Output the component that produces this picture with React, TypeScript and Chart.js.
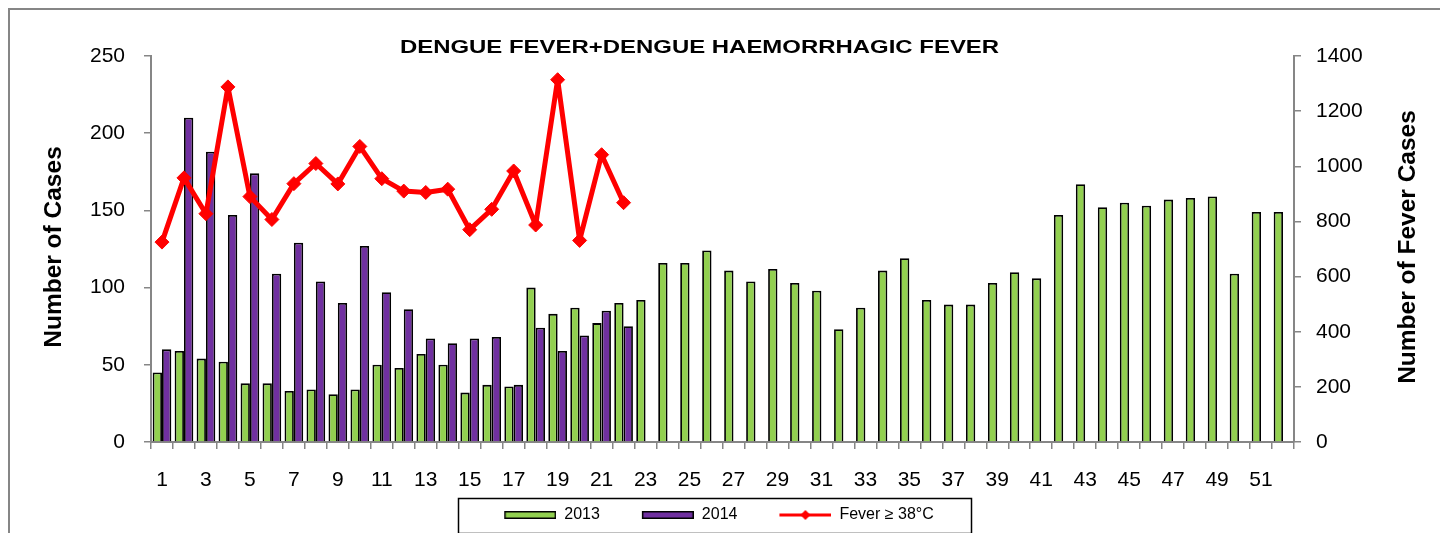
import React, { useEffect, useRef } from 'react';
import { Chart, registerables } from 'chart.js';

Chart.register(...registerables);

const FONT = '"Liberation Sans", Arial, sans-serif';
const CHART_TITLE = 'DENGUE FEVER+DENGUE HAEMORRHAGIC FEVER';
const LEFT_AXIS_TITLE = 'Number of Cases';
const RIGHT_AXIS_TITLE = 'Number of Fever Cases';

const weeks = [
  '1', '2', '3', '4', '5', '6', '7', '8', '9', '10', '11', '12', '13', '14', '15', '16', '17', '18',
  '19', '20', '21', '22', '23', '24', '25', '26', '27', '28', '29', '30', '31', '32', '33', '34', '35',
  '36', '37', '38', '39', '40', '41', '42', '43', '44', '45', '46', '47', '48', '49', '50', '51', '52',
];

const cases2013 = [
  45, 59, 54, 52, 38, 38, 33, 34, 31, 34, 50, 48, 57, 50, 32, 37, 36, 100, 83, 87, 77, 90, 92,
  116, 116, 124, 111, 104, 112, 103, 98, 73, 87, 111, 119, 92, 89, 89, 103, 110, 106, 147, 167,
  152, 155, 153, 157, 158, 159, 109, 149, 149,
];

const cases2014 = [
  60, 210, 188, 147, 174, 109, 129, 104, 90, 127, 97, 86, 67, 64, 67, 68, 37, 74, 59, 69, 85, 75,
];

const feverCases = [
  725, 958, 828, 1288, 890, 807, 937, 1010, 936, 1072, 955, 910, 905, 917, 770, 844, 983, 787,
  1314, 731, 1042, 868,
];

const seriesNames = ['2013', '2014', 'Fever \u2265 38\u00B0C'];
const leftAxisRange = [0, 250, 50];
const rightAxisRange = [0, 1400, 200];

const GREEN = '#92D050';
const PURPLE = '#7030A0';
const RED = '#FF0000';
const AXIS = '#868686';

function makeLegendSymbol(kind: 'bar' | 'line', color: string): HTMLCanvasElement {
  const c = document.createElement('canvas');
  c.width = 84;
  c.height = 14;
  const g = c.getContext('2d')!;
  if (kind === 'bar') {
    g.fillStyle = color;
    g.fillRect(32, 3, 52, 8);
    g.strokeStyle = '#000';
    g.lineWidth = 1.5;
    g.strokeRect(32.75, 3.75, 50.5, 6.5);
  } else {
    g.strokeStyle = color;
    g.lineWidth = 3;
    g.beginPath();
    g.moveTo(32, 7);
    g.lineTo(84, 7);
    g.stroke();
    g.fillStyle = color;
    g.beginPath();
    g.moveTo(58 - 5, 7);
    g.lineTo(58, 2);
    g.lineTo(58 + 5, 7);
    g.lineTo(58, 12);
    g.closePath();
    g.fill();
  }
  return c;
}

const decorations = {
  id: 'decorations',
  afterDraw(chart: any) {
    const { ctx, chartArea } = chart;
    ctx.save();
    ctx.fillStyle = '#000';
    // chart title (stretched horizontally like the original)
    ctx.font = `bold 19px ${FONT}`;
    ctx.textAlign = 'center';
    ctx.textBaseline = 'middle';
    ctx.save();
    ctx.translate((chartArea.left + chartArea.right) / 2 - 23, 48);
    ctx.scale(1.26, 1);
    ctx.fillText(CHART_TITLE, 0, 0);
    ctx.restore();

    // axis titles (both read bottom to top)
    const midY = (chartArea.top + chartArea.bottom) / 2 - 2;
    ctx.font = `bold 24.5px ${FONT}`;
    ctx.save();
    ctx.translate(chartArea.left - 97, midY);
    ctx.rotate(-Math.PI / 2);
    ctx.fillText(LEFT_AXIS_TITLE, 0, 0);
    ctx.restore();
    ctx.save();
    ctx.translate(chartArea.right + 114, midY);
    ctx.rotate(-Math.PI / 2);
    ctx.fillText(RIGHT_AXIS_TITLE, 0, 0);
    ctx.restore();

    // legend frame
    const lg = chart.legend;
    if (lg && lg.legendHitBoxes && lg.legendHitBoxes.length) {
      const hb = lg.legendHitBoxes;
      const first = hb[0];
      const last = hb[hb.length - 1];
      const left = first.left + 32 - 46;
      const right = last.left + last.width + 37;
      const cy = first.top + first.height / 2;
      ctx.strokeStyle = '#000';
      ctx.lineWidth = 1.5;
      ctx.strokeRect(Math.round(left) + 0.5, Math.round(cy - 17.5) + 0.5, Math.round(right - left), 35);
    }
    ctx.restore();
  },
};

export default function App() {
  const canvasRef = useRef<HTMLCanvasElement | null>(null);

  useEffect(() => {
    if (!canvasRef.current) return;
    const symbols = [
      makeLegendSymbol('bar', GREEN),
      makeLegendSymbol('bar', PURPLE),
      makeLegendSymbol('line', RED),
    ];

    const chart = new Chart(canvasRef.current, {
      type: 'bar',
      data: {
        labels: weeks,
        datasets: [
          {
            type: 'bar',
            label: seriesNames[0],
            data: cases2013,
            backgroundColor: GREEN,
            borderColor: '#000',
            borderWidth: 1.8,
            yAxisID: 'y',
            order: 1,
            categoryPercentage: 0.85,
            barPercentage: 1.0,
          },
          {
            type: 'bar',
            label: seriesNames[1],
            data: cases2014,
            backgroundColor: PURPLE,
            borderColor: '#000',
            borderWidth: 1.8,
            yAxisID: 'y',
            order: 1,
            categoryPercentage: 0.85,
            barPercentage: 1.0,
          },
          {
            type: 'line',
            label: seriesNames[2],
            data: feverCases,
            borderColor: RED,
            backgroundColor: RED,
            borderWidth: 5,
            borderJoinStyle: 'round',
            borderCapStyle: 'round',
            pointStyle: 'rectRot',
            pointRadius: 7,
            pointBackgroundColor: RED,
            pointBorderColor: RED,
            pointBorderWidth: 1,
            tension: 0,
            yAxisID: 'y1',
            order: 0,
          },
        ] as any,
      },
      options: {
        responsive: false,
        animation: false,
        devicePixelRatio: 1,
        layout: { padding: { left: 0, right: 34, top: 56, bottom: 0 } },
        plugins: {
          title: { display: false },
          tooltip: { enabled: false },
          legend: {
            display: true,
            position: 'bottom',
            labels: {
              usePointStyle: true,
              pointStyleWidth: 84,
              boxHeight: 16,
              padding: 10,
              color: '#000',
              font: { size: 16, family: FONT },
              generateLabels: () =>
                seriesNames.map((name, i) => ({
                  text: name,
                  pointStyle: symbols[i],
                  fillStyle: 'transparent',
                  strokeStyle: 'transparent',
                  lineWidth: 0,
                  hidden: false,
                  datasetIndex: i,
                  fontColor: '#000',
                })) as any,
            },
          },
        },
        scales: {
          x: {
            type: 'category',
            offset: true,
            grid: {
              display: true,
              offset: true,
              drawOnChartArea: false,
              drawTicks: true,
              tickLength: 7,
              color: AXIS,
              lineWidth: 1.5,
            },
            border: { display: true, color: AXIS, width: 2 },
            ticks: {
              autoSkip: false,
              maxRotation: 0,
              minRotation: 0,
              padding: 19,
              color: '#000',
              font: { size: 21, family: FONT },
              callback: (_v: any, i: number) => (i % 2 === 0 ? weeks[i] : ''),
            },
            afterFit: (s: any) => {
              s.height = 55;
            },
          },
          y: {
            type: 'linear',
            position: 'left',
            min: leftAxisRange[0],
            max: leftAxisRange[1],
            grid: {
              display: true,
              drawOnChartArea: false,
              drawTicks: true,
              tickLength: 7,
              color: AXIS,
              lineWidth: 1.5,
            },
            border: { display: true, color: AXIS, width: 2 },
            ticks: {
              stepSize: leftAxisRange[2],
              padding: 19,
              color: '#000',
              font: { size: 21, family: FONT },
              callback: (v: any) => String(v),
            },
            afterFit: (s: any) => {
              s.width = 151;
            },
          },
          y1: {
            type: 'linear',
            position: 'right',
            min: rightAxisRange[0],
            max: rightAxisRange[1],
            grid: {
              display: true,
              drawOnChartArea: false,
              drawTicks: true,
              tickLength: 7,
              color: AXIS,
              lineWidth: 1.5,
            },
            border: { display: true, color: AXIS, width: 2 },
            ticks: {
              stepSize: rightAxisRange[2],
              padding: 15,
              color: '#000',
              font: { size: 21, family: FONT },
              callback: (v: any) => String(v),
            },
            afterFit: (s: any) => {
              s.width = 112;
            },
          },
        },
      } as any,
      plugins: [decorations],
    });

    return () => {
      chart.destroy();
    };
  }, []);

  return (
    <div style={{ position: 'fixed', left: 0, top: 0, width: 1440, height: 533, background: '#fff', overflow: 'hidden' }}>
      <div
        style={{
          position: 'absolute',
          left: 8,
          top: 8,
          width: 1440,
          height: 600,
          borderTop: `2px solid ${AXIS}`,
          borderLeft: `2px solid ${AXIS}`,
        }}
      />
      <canvas
        ref={canvasRef}
        width={1440}
        height={533}
        style={{ position: 'absolute', left: 0, top: 0, width: 1440, height: 533, display: 'block' }}
      />
    </div>
  );
}
